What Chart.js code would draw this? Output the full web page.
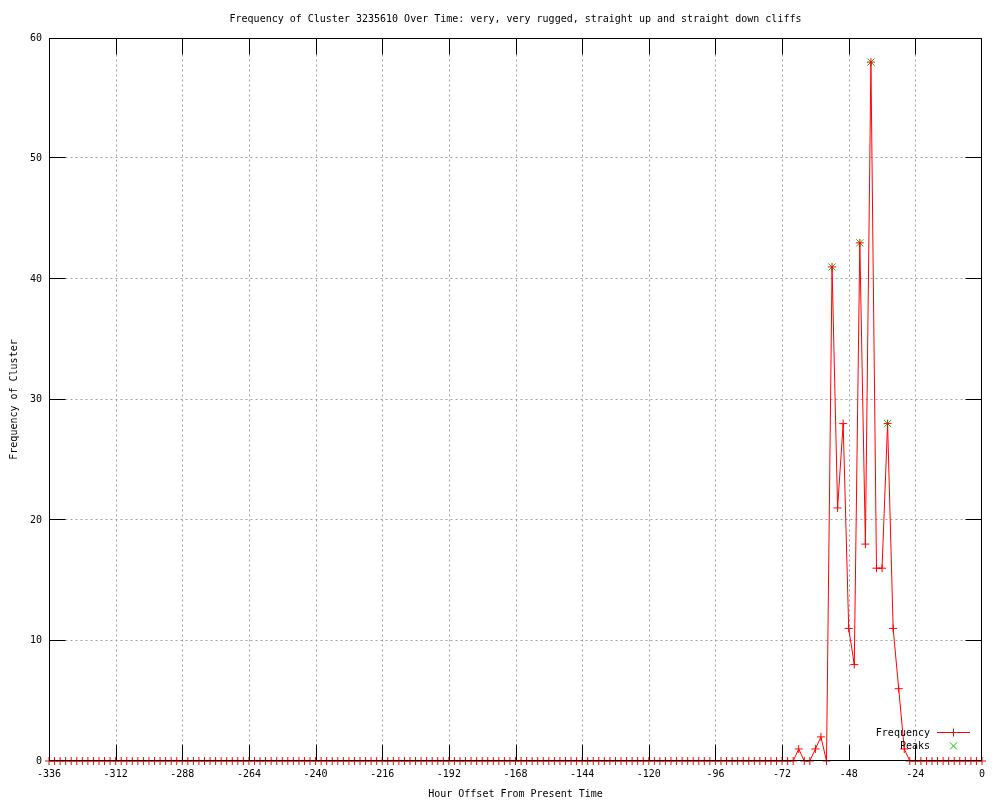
<!DOCTYPE html>
<html><head><meta charset="utf-8">
<script src="https://cdn.jsdelivr.net/npm/chart.js@4"></script>
<style>html,body{margin:0;padding:0;background:#fff}#wrap{width:1000px;height:800px;position:relative}</style>
</head><body><div id="wrap"><canvas id="c" width="1000" height="800"></canvas></div>
<script>
const titleText = 'Frequency of Cluster 3235610 Over Time: very, very rugged, straight up and straight down cliffs';
const xAxisLabel = 'Hour Offset From Present Time';
const yAxisLabel = 'Frequency of Cluster';
const seriesLabels = ['Frequency', 'Peaks'];

const hours = [
  -336,-334,-332,-330,-328,-326,-324,-322,-320,-318,-316,-314,
  -312,-310,-308,-306,-304,-302,-300,-298,-296,-294,-292,-290,
  -288,-286,-284,-282,-280,-278,-276,-274,-272,-270,-268,-266,
  -264,-262,-260,-258,-256,-254,-252,-250,-248,-246,-244,-242,
  -240,-238,-236,-234,-232,-230,-228,-226,-224,-222,-220,-218,
  -216,-214,-212,-210,-208,-206,-204,-202,-200,-198,-196,-194,
  -192,-190,-188,-186,-184,-182,-180,-178,-176,-174,-172,-170,
  -168,-166,-164,-162,-160,-158,-156,-154,-152,-150,-148,-146,
  -144,-142,-140,-138,-136,-134,-132,-130,-128,-126,-124,-122,
  -120,-118,-116,-114,-112,-110,-108,-106,-104,-102,-100,-98,
  -96,-94,-92,-90,-88,-86,-84,-82,-80,-78,-76,-74,
  -72,-70,-68,-66,-64,-62,-60,-58,-56,-54,-52,-50,
  -48,-46,-44,-42,-40,-38,-36,-34,-32,-30,-28,-26,
  -24,-22,-20,-18,-16,-14,-12,-10,-8,-6,-4,-2,0
];
const frequency = [
  0,0,0,0,0,0,0,0,0,0,0,0,
  0,0,0,0,0,0,0,0,0,0,0,0,
  0,0,0,0,0,0,0,0,0,0,0,0,
  0,0,0,0,0,0,0,0,0,0,0,0,
  0,0,0,0,0,0,0,0,0,0,0,0,
  0,0,0,0,0,0,0,0,0,0,0,0,
  0,0,0,0,0,0,0,0,0,0,0,0,
  0,0,0,0,0,0,0,0,0,0,0,0,
  0,0,0,0,0,0,0,0,0,0,0,0,
  0,0,0,0,0,0,0,0,0,0,0,0,
  0,0,0,0,0,0,0,0,0,0,0,0,
  0,0,0,1,0,0,1,2,0,41,21,28,
  11,8,43,18,58,16,16,28,11,6,1,0,
  0,0,0,0,0,0,0,0,0,0,0,0,0
];
const peakHours = [-54, -44, -40, -34];
const peakValues = [41, 43, 58, 28];

const xTickValues = [-336,-312,-288,-264,-240,-216,-192,-168,-144,-120,-96,-72,-48,-24,0];
const yTickValues = [0,10,20,30,40,50,60];

const FAMILY = '"DejaVu Sans Mono", "Liberation Mono", monospace';
const FONT = {family: FAMILY, size: 10, lineHeight: 1.2, weight: 'normal'};
const RED = '#ff0000';
const GREEN = '#00c000';
const TICK_LEN = 16;

function frameBox(a) {
  return {L: a.left + 0.5, R: a.right - 0.5, T: a.top + 0.5, B: a.bottom - 0.5};
}
function xPix(xs, v, f) {
  return Math.min(Math.max(Math.round(xs.getPixelForValue(v)) + 0.5, f.L), f.R);
}
function yPix(ys, v, f) {
  return Math.min(Math.max(Math.round(ys.getPixelForValue(v)) - 0.5, f.T), f.B);
}

const framePlugin = {
  id: 'frame',
  beforeDatasetsDraw(chart) {
    const ctx = chart.ctx, f = frameBox(chart.chartArea);
    const xs = chart.scales.x, ys = chart.scales.y;
    ctx.save();
    ctx.strokeStyle = '#a0a0a0';
    ctx.lineWidth = 1;
    ctx.setLineDash([2, 3]);
    xTickValues.forEach(v => {
      const px = xPix(xs, v, f);
      if (px <= f.L + 1 || px >= f.R - 1) return;
      ctx.beginPath(); ctx.moveTo(px, f.T + TICK_LEN); ctx.lineTo(px, f.B - TICK_LEN); ctx.stroke();
    });
    yTickValues.forEach(v => {
      const py = yPix(ys, v, f);
      if (py <= f.T + 1 || py >= f.B - 1) return;
      ctx.beginPath(); ctx.moveTo(f.L + TICK_LEN, py); ctx.lineTo(f.R - TICK_LEN, py); ctx.stroke();
    });
    ctx.restore();
  },
  afterDatasetsDraw(chart) {
    const ctx = chart.ctx, a = chart.chartArea, f = frameBox(a);
    const xs = chart.scales.x, ys = chart.scales.y;
    ctx.save();
    ctx.strokeStyle = '#000';
    ctx.lineWidth = 1;
    ctx.setLineDash([]);
    ctx.beginPath();
    xTickValues.forEach(v => {
      const px = xPix(xs, v, f);
      ctx.moveTo(px, f.B); ctx.lineTo(px, f.B - TICK_LEN);
      ctx.moveTo(px, f.T); ctx.lineTo(px, f.T + TICK_LEN);
    });
    yTickValues.forEach(v => {
      const py = yPix(ys, v, f);
      ctx.moveTo(f.L, py); ctx.lineTo(f.L + TICK_LEN, py);
      ctx.moveTo(f.R, py); ctx.lineTo(f.R - TICK_LEN, py);
    });
    ctx.stroke();
    ctx.strokeRect(f.L, f.T, f.R - f.L, f.B - f.T);

    // key
    ctx.font = '10px ' + FAMILY;
    ctx.fillStyle = '#000';
    ctx.textAlign = 'right';
    ctx.textBaseline = 'middle';
    const kx = a.right - 52, sx0 = a.right - 45, sx1 = a.right - 12, mx = a.right - 28.5;
    const ky1 = a.bottom - 28, ky2 = a.bottom - 15;
    ctx.fillText(seriesLabels[0], kx, ky1);
    ctx.fillText(seriesLabels[1], kx, ky2);
    ctx.strokeStyle = RED;
    ctx.beginPath(); ctx.moveTo(sx0, ky1 - 0.5); ctx.lineTo(sx1, ky1 - 0.5); ctx.stroke();
    Chart.helpers.drawPoint(ctx, {pointStyle: 'cross', radius: 4, borderWidth: 1}, mx, ky1 - 0.5);
    ctx.strokeStyle = GREEN;
    Chart.helpers.drawPoint(ctx, {pointStyle: 'crossRot', radius: 5, borderWidth: 1}, mx, ky2);
    ctx.restore();
  }
};

new Chart(document.getElementById('c'), {
  type: 'line',
  data: {
    datasets: [
      {
        label: seriesLabels[0],
        data: hours.map((h, i) => ({x: h, y: frequency[i]})),
        borderColor: RED, backgroundColor: RED,
        borderWidth: 1, tension: 0, fill: false,
        pointStyle: 'cross', pointRadius: 4, pointBorderWidth: 1,
        pointBorderColor: RED, pointBackgroundColor: RED,
        clip: false
      },
      {
        label: seriesLabels[1],
        data: peakHours.map((h, i) => ({x: h, y: peakValues[i]})),
        showLine: false,
        borderColor: GREEN, backgroundColor: GREEN,
        pointStyle: 'crossRot', pointRadius: 5, pointBorderWidth: 1,
        pointBorderColor: GREEN, pointBackgroundColor: GREEN,
        clip: false
      }
    ]
  },
  options: {
    responsive: false,
    devicePixelRatio: 1,
    animation: false,
    events: [],
    layout: {padding: {left: 0, right: 18, top: 0, bottom: 0}},
    plugins: {
      legend: {display: false},
      tooltip: {enabled: false},
      title: {
        display: true, text: titleText, color: '#000', fullSize: false,
        font: FONT, padding: {top: 13, bottom: 13}
      }
    },
    scales: {
      x: {
        type: 'linear', min: -336, max: 0,
        afterBuildTicks: s => { s.ticks = xTickValues.map(v => ({value: v})); },
        afterFit: s => { s.height = 39; },
        grid: {display: false, drawTicks: false},
        border: {display: false},
        ticks: {color: '#000', font: FONT, padding: 7, autoSkip: false, maxRotation: 0,
                callback: v => String(v)},
        title: {display: true, text: xAxisLabel, color: '#000', font: FONT, padding: {top: 0, bottom: 0}}
      },
      y: {
        type: 'linear', min: 0, max: 60,
        afterBuildTicks: s => { s.ticks = yTickValues.map(v => ({value: v})); },
        afterFit: s => { s.width = 49; },
        grid: {display: false, drawTicks: false},
        border: {display: false},
        ticks: {color: '#000', font: FONT, padding: 7, callback: v => String(v)},
        title: {display: true, text: yAxisLabel, color: '#000', font: FONT, padding: {top: 8, bottom: 0}}
      }
    }
  },
  plugins: [framePlugin]
});
</script>
</body></html>
